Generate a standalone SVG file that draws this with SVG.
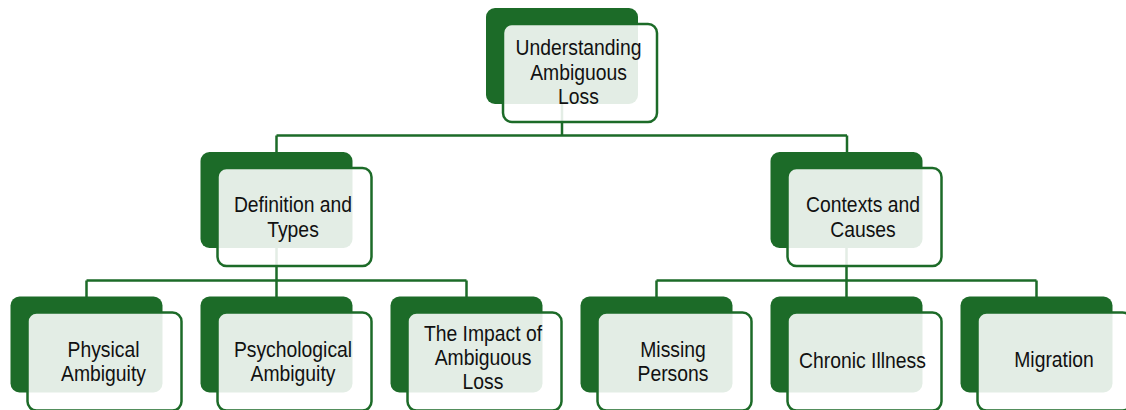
<svg xmlns="http://www.w3.org/2000/svg" width="1126" height="410" viewBox="0 0 1126 410">
  <style>
    .back { fill: #1c6b28; }
    .front { fill: #ffffff; fill-opacity: 0.88; stroke: #1c6b28; stroke-width: 2.5; }
    .label { font-family: "Liberation Sans", Arial, sans-serif; font-size: 22.5px; fill: #111111; text-anchor: middle; }
    .wire { fill: none; stroke: #1c6b28; stroke-width: 2.5; }
  </style>
  <rect width="1126" height="410" fill="#ffffff"/>

  <!-- connectors: trunk, level-2 bus and the two level-3 buses -->
  <g id="connectors">
    <path class="wire" d="M562 60 V135.5 M276.5 135.5 H847 M276.5 135.5 V152 M847 135.5 V152"/>
    <path class="wire" d="M276.5 200 V280.5 M86.5 280.5 H466.5 M86.5 280.5 V297 M276.5 280.5 V297 M466.5 280.5 V297"/>
    <path class="wire" d="M846.5 200 V280.5 M656.5 280.5 H1036.5 M656.5 280.5 V297 M846.5 280.5 V297 M1036.5 280.5 V297"/>
  </g>

  <!-- labels are set in a narrow face: horizontally condensed to 86% -->
  <!-- root -->
  <g id="node-root">
    <rect class="back" x="486" y="8" width="152" height="96" rx="9"/>
    <rect class="front" x="503" y="24" width="154" height="98" rx="9"/>
    <text class="label" transform="matrix(0.86 0 0 1 578.5 0)"><tspan x="0" y="55.5">Understanding</tspan><tspan x="0" y="80">Ambiguous</tspan><tspan x="0" y="104.5">Loss</tspan></text>
  </g>

  <!-- level 2 -->
  <g id="node-definition">
    <rect class="back" x="200.5" y="152" width="152" height="96" rx="9"/>
    <rect class="front" x="217.5" y="168" width="154" height="98" rx="9"/>
    <text class="label" transform="matrix(0.86 0 0 1 293 0)"><tspan x="0" y="212">Definition and</tspan><tspan x="0" y="237">Types</tspan></text>
  </g>
  <g id="node-contexts">
    <rect class="back" x="770.5" y="152" width="152" height="96" rx="9"/>
    <rect class="front" x="787.5" y="168" width="154" height="98" rx="9"/>
    <text class="label" transform="matrix(0.86 0 0 1 863 0)"><tspan x="0" y="212">Contexts and</tspan><tspan x="0" y="237">Causes</tspan></text>
  </g>

  <!-- level 3 -->
  <g id="node-physical">
    <rect class="back" x="10.5" y="296.5" width="152" height="96" rx="9"/>
    <rect class="front" x="27.5" y="312.5" width="154" height="98" rx="9"/>
    <text class="label" transform="matrix(0.86 0 0 1 103.5 0)"><tspan x="0" y="357">Physical</tspan><tspan x="0" y="381.5">Ambiguity</tspan></text>
  </g>
  <g id="node-psychological">
    <rect class="back" x="200.5" y="296.5" width="152" height="96" rx="9"/>
    <rect class="front" x="217.5" y="312.5" width="154" height="98" rx="9"/>
    <text class="label" transform="matrix(0.86 0 0 1 293 0)"><tspan x="0" y="357">Psychological</tspan><tspan x="0" y="381.5">Ambiguity</tspan></text>
  </g>
  <g id="node-impact">
    <rect class="back" x="390.5" y="296.5" width="152" height="96" rx="9"/>
    <rect class="front" x="407.5" y="312.5" width="154" height="98" rx="9"/>
    <text class="label" transform="matrix(0.86 0 0 1 483 0)"><tspan x="0" y="341">The Impact of</tspan><tspan x="0" y="365">Ambiguous</tspan><tspan x="0" y="389">Loss</tspan></text>
  </g>
  <g id="node-missing">
    <rect class="back" x="580.5" y="296.5" width="152" height="96" rx="9"/>
    <rect class="front" x="597.5" y="312.5" width="154" height="98" rx="9"/>
    <text class="label" transform="matrix(0.86 0 0 1 673 0)"><tspan x="0" y="357">Missing</tspan><tspan x="0" y="381.5">Persons</tspan></text>
  </g>
  <g id="node-chronic">
    <rect class="back" x="770.5" y="296.5" width="152" height="96" rx="9"/>
    <rect class="front" x="787.5" y="312.5" width="154" height="98" rx="9"/>
    <text class="label" transform="matrix(0.86 0 0 1 862.5 0)"><tspan x="0" y="368">Chronic Illness</tspan></text>
  </g>
  <g id="node-migration">
    <rect class="back" x="960.5" y="296.5" width="152" height="96" rx="9"/>
    <rect class="front" x="977.5" y="312.5" width="154" height="98" rx="9"/>
    <text class="label" transform="matrix(0.86 0 0 1 1054 0)"><tspan x="0" y="367.5">Migration</tspan></text>
  </g>
</svg>
